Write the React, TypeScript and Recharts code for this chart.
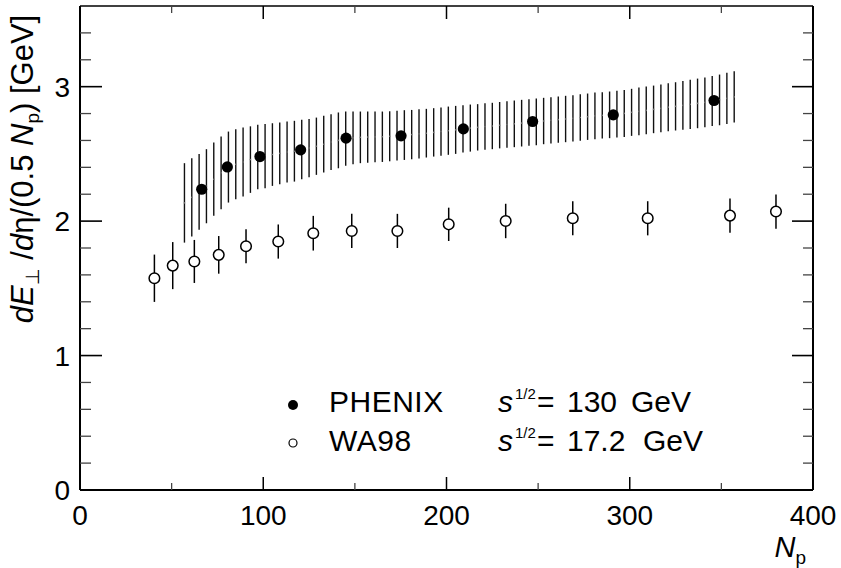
import React from 'react';
import { ComposedChart, Scatter, XAxis, YAxis, ErrorBar } from 'recharts';

// PHENIX 130 GeV points (filled)
const phenixNp = [66.4, 80.4, 98.2, 120.4, 145.2, 175.2, 209.2, 247.0, 291.0, 346.0];
const phenixEt = [2.237, 2.403, 2.48, 2.53, 2.617, 2.634, 2.686, 2.741, 2.79, 2.897];

// PHENIX systematic band, one bar every few Np
const bandNp = [
  57, 61, 65, 69, 73, 77, 81, 85, 89, 93, 97, 101, 105, 109, 113, 117, 121, 125, 129, 133,
  137, 141, 145, 149, 153, 157, 161, 165, 169, 173, 177, 181, 185, 189, 193, 197, 201, 205, 209, 213,
  217, 221, 225, 229, 233, 237, 241, 245, 249, 253, 257, 261, 265, 269, 273, 277, 281, 285, 289, 293,
  297, 301, 305, 309, 313, 317, 321, 325, 329, 333, 337, 341, 345, 349, 353, 357,
];
const bandHigh = [
  2.431, 2.468, 2.5, 2.535, 2.584, 2.629, 2.666, 2.683, 2.696, 2.705, 2.716, 2.723, 2.728, 2.733, 2.741, 2.746, 2.753, 2.76, 2.77, 2.783,
  2.795, 2.808, 2.815, 2.815, 2.815, 2.815, 2.815, 2.815, 2.817, 2.82, 2.825, 2.827, 2.832, 2.835, 2.84, 2.845, 2.852, 2.857, 2.862, 2.867,
  2.87, 2.876, 2.88, 2.886, 2.892, 2.897, 2.902, 2.907, 2.912, 2.917, 2.922, 2.927, 2.932, 2.937, 2.944, 2.949, 2.956, 2.959, 2.964, 2.969,
  2.976, 2.984, 2.993, 3.001, 3.008, 3.016, 3.026, 3.033, 3.043, 3.051, 3.06, 3.068, 3.08, 3.09, 3.103, 3.115,
];
const bandLow = [
  1.84, 1.885, 1.935, 1.984, 2.039, 2.089, 2.138, 2.163, 2.183, 2.21, 2.237, 2.245, 2.262, 2.274, 2.287, 2.294, 2.312, 2.327, 2.344, 2.361,
  2.381, 2.393, 2.411, 2.423, 2.431, 2.435, 2.438, 2.44, 2.445, 2.45, 2.455, 2.46, 2.465, 2.473, 2.48, 2.487, 2.493, 2.5, 2.51, 2.517,
  2.525, 2.53, 2.535, 2.541, 2.545, 2.55, 2.555, 2.56, 2.564, 2.572, 2.577, 2.582, 2.587, 2.592, 2.597, 2.604, 2.609, 2.614, 2.617, 2.621,
  2.626, 2.634, 2.639, 2.646, 2.654, 2.661, 2.669, 2.674, 2.679, 2.686, 2.691, 2.699, 2.708, 2.713, 2.723, 2.733,
];

// WA98 17.2 GeV points (open)
const wa98Np = [40.6, 50.6, 62.4, 75.7, 90.6, 108.2, 127.3, 148.3, 173.2, 201.2, 232.3, 268.9, 309.8, 354.7, 379.8];
const wa98Et = [1.575, 1.669, 1.7, 1.749, 1.813, 1.848, 1.91, 1.927, 1.927, 1.976, 2.001, 2.021, 2.021, 2.041, 2.071];
const wa98Err = [0.176, 0.175, 0.16, 0.14, 0.127, 0.127, 0.129, 0.127, 0.127, 0.124, 0.128, 0.127, 0.127, 0.127, 0.127];

const xTicks = [0, 50, 100, 150, 200, 250, 300, 350, 400];
const yTicks = [0, 0.2, 0.4, 0.6, 0.8, 1, 1.2, 1.4, 1.6, 1.8, 2, 2.2, 2.4, 2.6, 2.8, 3, 3.2, 3.4];

const FONT = '"Liberation Sans", Arial, Helvetica, sans-serif';
const FS = 28;
const LFS = 30;

const phenixRows = phenixNp.map((np, i) => ({ np, et: phenixEt[i] }));
const wa98Rows = wa98Np.map((np, i) => ({ np, et: wa98Et[i], err: wa98Err[i] }));
const bandRows = bandNp.map((np, i) => ({
  np,
  mid: (bandLow[i] + bandHigh[i]) / 2,
  err: (bandHigh[i] - bandLow[i]) / 2,
}));

const isMajor = (v: number) => Math.abs(v - Math.round(v)) < 1e-6;

const LeftTick = (p: any) => {
  const v = p.payload.value;
  const major = isMajor(v);
  return (
    <g>
      {v !== 0 && (
        <line x1={p.x} x2={p.x + (major ? 22 : 11)} y1={p.y} y2={p.y}
          stroke={major ? '#000' : '#444'} strokeWidth={major ? 1.6 : 1.3} />
      )}
      {major && (
        <text x={p.x - 10} y={p.y + 10} textAnchor="end" fontFamily={FONT} fontSize={FS} fill="#000">
          {v}
        </text>
      )}
    </g>
  );
};

const RightTick = (p: any) => {
  const v = p.payload.value;
  if (v === 0) return <g />;
  const major = isMajor(v);
  return (
    <line x1={p.x} x2={p.x - (major ? 21 : 10)} y1={p.y} y2={p.y}
      stroke={major ? '#000' : '#444'} strokeWidth={major ? 1.6 : 1.3} />
  );
};

const BottomTick = (p: any) => {
  const v = p.payload.value;
  const major = v % 100 === 0;
  return (
    <g>
      {v !== 0 && v !== 400 && (
        <line x1={p.x} x2={p.x} y1={p.y} y2={p.y - (major ? 13 : 7)}
          stroke={major ? '#000' : '#444'} strokeWidth={major ? 1.5 : 1.3} />
      )}
      {major && (
        <text x={p.x} y={p.y + 35} textAnchor="middle" fontFamily={FONT} fontSize={FS} fill="#000">
          {v}
        </text>
      )}
    </g>
  );
};

const TopTick = (p: any) => {
  const v = p.payload.value;
  if (v === 0 || v === 400) return <g />;
  const major = v % 100 === 0;
  return (
    <line x1={p.x} x2={p.x} y1={p.y} y2={p.y + (major ? 13 : 7)}
      stroke={major ? '#000' : '#444'} strokeWidth={major ? 1.5 : 1.3} />
  );
};

const FilledDot = (p: any) => <circle cx={p.cx} cy={p.cy} r={5.6} fill="#000" />;
const OpenDot = (p: any) => (
  <circle cx={p.cx} cy={p.cy} r={5.3} fill="#fff" stroke="#000" strokeWidth={1.5} />
);
const BandDot = (p: any) => <circle cx={p.cx} cy={p.cy} r={0.8} fill="#777" />;

export default function App() {
  return (
    <div style={{ position: 'absolute', left: 0, top: 0, width: 841, height: 568, background: '#fff' }}>
      <ComposedChart width={841} height={568} margin={{ top: 0, right: 0, bottom: 0, left: 0 }}>
        <XAxis xAxisId="b" type="number" dataKey="np" domain={[0, 400]} ticks={xTicks} interval={0}
          orientation="bottom" height={78} tickSize={0} tickMargin={0} tickLine={false}
          axisLine={{ stroke: '#000', strokeWidth: 2 }} tick={BottomTick} allowDataOverflow />
        <XAxis xAxisId="t" type="number" dataKey="np" domain={[0, 400]} ticks={xTicks} interval={0}
          orientation="top" height={6} tickSize={0} tickMargin={0} tickLine={false}
          axisLine={{ stroke: '#000', strokeWidth: 1.3 }} tick={TopTick} allowDataOverflow />
        <YAxis yAxisId="l" type="number" domain={[0, 3.6]} ticks={yTicks} interval={0}
          width={80} tickSize={0} tickMargin={0} tickLine={false}
          axisLine={{ stroke: '#000', strokeWidth: 2 }} tick={LeftTick} allowDataOverflow />
        <YAxis yAxisId="r" orientation="right" type="number" domain={[0, 3.6]} ticks={yTicks} interval={0}
          width={28} tickSize={0} tickMargin={0} tickLine={false}
          axisLine={{ stroke: '#000', strokeWidth: 2 }} tick={RightTick} allowDataOverflow />

        <Scatter xAxisId="b" yAxisId="l" data={bandRows} dataKey="mid" shape={BandDot} isAnimationActive={false}>
          <ErrorBar dataKey="err" direction="y" width={0} stroke="#111" strokeWidth={1.4} isAnimationActive={false} />
        </Scatter>
        <Scatter xAxisId="b" yAxisId="l" data={wa98Rows} dataKey="et" shape={OpenDot} isAnimationActive={false}>
          <ErrorBar dataKey="err" direction="y" width={0} stroke="#000" strokeWidth={1.5} isAnimationActive={false} />
        </Scatter>
        <Scatter xAxisId="b" yAxisId="l" data={phenixRows} dataKey="et" shape={FilledDot} isAnimationActive={false} />
      </ComposedChart>

      <svg width={841} height={568} style={{ position: 'absolute', left: 0, top: 0, pointerEvents: 'none' }}
        fontFamily={FONT} fontSize={FS} fill="#000">
        {/* y title */}
        <text x={33} y={169} textAnchor="middle" fontSize={31} transform="rotate(-90 33 169)">
          <tspan fontStyle="italic">dE</tspan>
          <tspan fontSize={19} dy={6}>⊥</tspan>
          <tspan dy={-6}> /</tspan>
          <tspan fontStyle="italic">d</tspan>
          <tspan>η/(0.5 </tspan>
          <tspan fontStyle="italic">N</tspan>
          <tspan fontSize={19} dy={6}>p</tspan>
          <tspan dy={-6}>) [GeV]</tspan>
        </text>
        {/* x title */}
        <text x={806} y={557} textAnchor="end" fontSize={29}>
          <tspan fontStyle="italic">N</tspan>
          <tspan fontSize={19} dy={7}>p</tspan>
        </text>
        {/* legend */}
        <circle cx={293} cy={405} r={5} fill="#000" />
        <circle cx={293} cy={443} r={4} fill="#fff" stroke="#000" strokeWidth={1.2} />
        <g fontSize={LFS}>
          <text x={329} y={412} letterSpacing={0.5}>PHENIX</text>
          <text x={329} y={451} letterSpacing={0.5}>WA98</text>
          <text x={498} y={412} fontStyle="italic">s</text>
          <text x={515} y={399} fontSize={15}>1/2</text>
          <text x={537} y={412}>=</text>
          <text x={567} y={412}>130</text>
          <text x={631} y={412}>GeV</text>
          <text x={498} y={451} fontStyle="italic">s</text>
          <text x={515} y={438} fontSize={15}>1/2</text>
          <text x={537} y={451}>=</text>
          <text x={567} y={451}>17.2</text>
          <text x={643} y={451}>GeV</text>
        </g>
      </svg>
    </div>
  );
}
